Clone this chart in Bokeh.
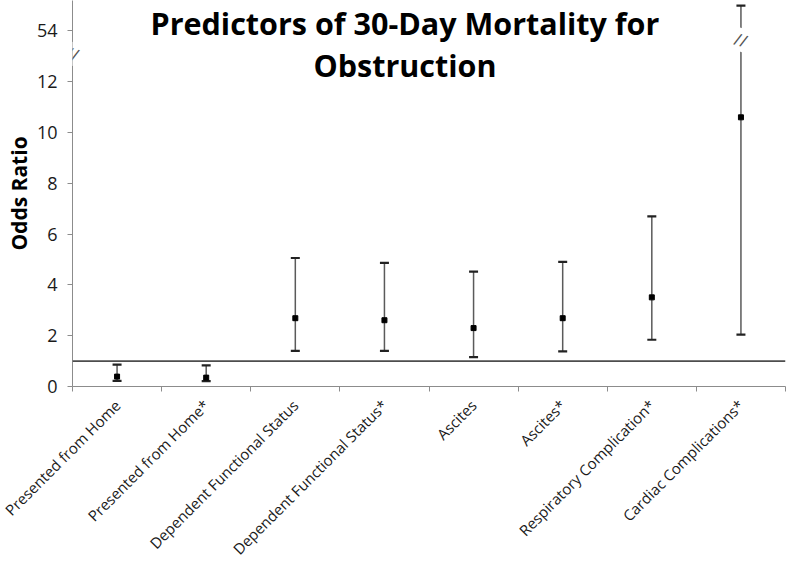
import math
from bokeh.plotting import figure
from bokeh.models import (ColumnDataSource, FixedTicker, Whisker, TeeHead, Span, Label, Range1d)
from bokeh.embed import file_html
from bokeh.resources import INLINE

# ---- data ----
categories = ["Presented from Home", "Presented from Home*", "Dependent Functional Status",
              "Dependent Functional Status*", "Ascites", "Ascites*",
              "Respiratory Complication*", "Cardiac Complications*"]
odds_ratio = [0.39, 0.35, 2.69, 2.61, 2.30, 2.69, 3.51, 10.6]
ci_lower = [0.22, 0.21, 1.40, 1.40, 1.16, 1.38, 1.84, 2.04]
ci_upper = [0.86, 0.83, 5.06, 4.87, 4.52, 4.91, 6.70, 55.0]
reference_value = 1.0
y_tick_values = [0, 2, 4, 6, 8, 10, 12, 54]

# broken axis: values above 12 are drawn shifted down by 40 (54 is drawn at 14)
BREAK_LOW, BREAK_SHIFT = 12, 40


def broken(v):
    return v if v <= BREAK_LOW else v - BREAK_SHIFT


FONT = "Open Sans"
xpos = [i + 0.5 for i in range(len(categories))]
src = ColumnDataSource(dict(
    x=xpos,
    y=[broken(v) for v in odds_ratio],
    lo=[broken(v) for v in ci_lower],
    hi=[broken(v) for v in ci_upper],
))

p = figure(width=800, height=568, output_backend="svg", toolbar_location=None,
           x_range=Range1d(0, len(categories)), y_range=Range1d(0, 15.2),
           min_border_left=72, min_border_right=15, min_border_top=0, min_border_bottom=180)
p.outline_line_color = None
p.xgrid.visible = False
p.ygrid.visible = False
p.background_fill_color = "white"

# reference line
p.add_layout(Span(location=reference_value, dimension="width", line_color="#4d4d4d", line_width=1.6))

# error bars
w = Whisker(source=src, base="x", lower="lo", upper="hi", line_color="#5a5a5a", line_width=1.5,
            upper_head=TeeHead(size=9, line_color="#222222", line_width=2.2),
            lower_head=TeeHead(size=9, line_color="#222222", line_width=2.2))
p.add_layout(w)
p.scatter("x", "y", source=src, marker="square", size=5, color="black")

# axes
ya = p.yaxis[0]
ya.ticker = FixedTicker(ticks=[broken(v) for v in y_tick_values])
ya.major_label_overrides = {broken(v): str(v) for v in y_tick_values}
ya.axis_label = "Odds Ratio"
ya.axis_label_text_font = FONT
ya.axis_label_text_font_style = "bold"
ya.axis_label_text_font_size = "21px"
ya.axis_label_text_color = "black"
ya.axis_label_standoff = 1
ya.major_label_text_font = FONT
ya.major_label_text_font_size = "18px"
ya.major_label_text_color = "#1a1a1a"
ya.major_label_standoff = 10
ya.major_tick_in = 0
ya.major_tick_out = 5
ya.minor_tick_line_color = None
ya.axis_line_color = "#8c8c8c"
ya.major_tick_line_color = "#8c8c8c"

xa = p.xaxis[0]
xa.ticker = FixedTicker(ticks=xpos, minor_ticks=list(range(len(categories) + 1)))
xa.major_label_overrides = {x: c for x, c in zip(xpos, categories)}
xa.major_label_orientation = math.pi / 4
xa.major_label_text_font = FONT
xa.major_label_text_font_size = "15px"
xa.major_label_text_color = "#1a1a1a"
xa.major_label_standoff = 10
xa.major_tick_line_color = None
xa.minor_tick_in = 0
xa.minor_tick_out = 5
xa.minor_tick_line_color = "#8c8c8c"
xa.axis_line_color = "#8c8c8c"

# axis break marks
p.add_layout(Label(x=0, y=13.1, text="//", text_font=FONT, text_font_size="17px",
                   text_align="center", text_baseline="middle", text_color="#555555",
                   background_fill_color="white", angle=-0.3))
p.add_layout(Label(x=xpos[-1], y=13.65, text="//", text_font=FONT, text_font_size="17px",
                   text_align="center", text_baseline="middle", text_color="#555555",
                   background_fill_color="white", angle=-0.3))

# title (overlapping plot area)
for txt, yy in [("Predictors of 30-Day Mortality for", 14.32), ("Obstruction", 12.67)]:
    p.add_layout(Label(x=3.73, y=yy, text=txt, text_font=FONT, text_font_style="bold",
                       text_font_size="30.5px", text_align="center", text_baseline="alphabetic",
                       text_color="black"))

open("out.html", "w").write(file_html(p, INLINE))
